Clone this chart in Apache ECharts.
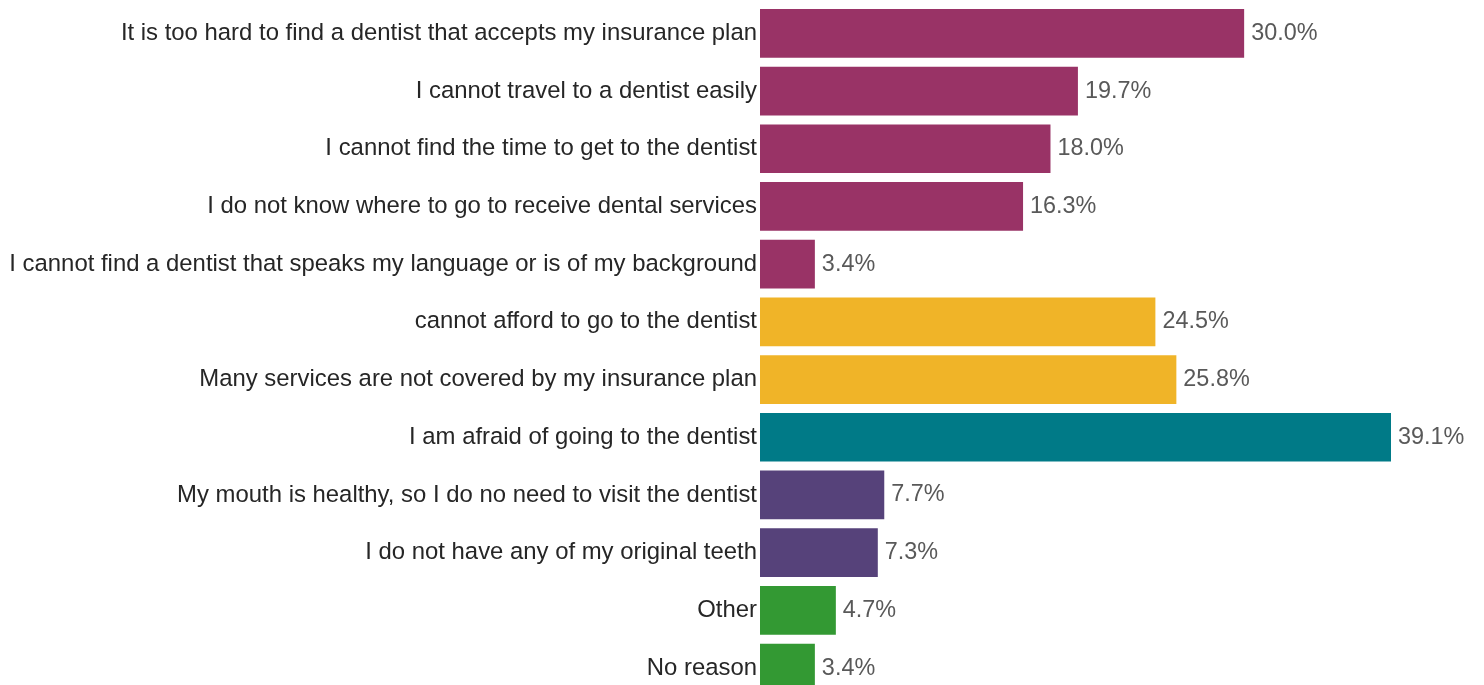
<!DOCTYPE html>
<html>
<head>
<meta charset="utf-8">
<script src="https://cdn.jsdelivr.net/npm/echarts@6/dist/echarts.min.js"></script>
<style>html,body{margin:0;padding:0;background:#fff;}#c{width:1484px;height:685px;}</style>
</head>
<body>
<div id="c"></div>
<script>
const categories = [
  "It is too hard to find a dentist that accepts my insurance plan",
  "I cannot travel to a dentist easily",
  "I cannot find the time to get to the dentist",
  "I do not know where to go to receive dental services",
  "I cannot find a dentist that speaks my language or is of my background",
  "cannot afford to go to the dentist",
  "Many services are not covered by my insurance plan",
  "I am afraid of going to the dentist",
  "My mouth is healthy, so I do no need to visit the dentist",
  "I do not have any of my original teeth",
  "Other",
  "No reason"
];
const values = [30.0, 19.7, 18.0, 16.3, 3.4, 24.5, 25.8, 39.1, 7.7, 7.3, 4.7, 3.4];
const groups = ["access","access","access","access","access","cost","cost","fear","need","need","other","other"];
const groupColors = {access:"#993366", cost:"#F0B428", fear:"#007A87", need:"#56427A", other:"#339933"};

const chart = echarts.init(document.getElementById('c'), null, {renderer:'canvas'});
chart.setOption({
  animation:false,
  grid:{left:760, top:4.5, height:692.4, width:631, containLabel:false, outerBoundsMode:'none'},
  xAxis:{type:'value', min:0, max:39.1, show:false},
  yAxis:{
    type:'category', inverse:true, data:categories,
    axisLine:{show:false}, axisTick:{show:false}, splitLine:{show:false},
    axisLabel:{color:'#262626', fontSize:23.9, fontFamily:'Liberation Sans', margin:3, hideOverlap:false}
  },
  series:[{
    type:'bar',
    barCategoryGap:'15.6%',
    data: values.map((v,i)=>({value:v, itemStyle:{color:groupColors[groups[i]]}})),
    label:{show:true, position:'right', distance:7, color:'#595959', fontSize:23.4,
      fontFamily:'Liberation Sans',
      formatter:p=>p.value.toFixed(1)+'%'}
  }]
});
</script>
</body>
</html>
